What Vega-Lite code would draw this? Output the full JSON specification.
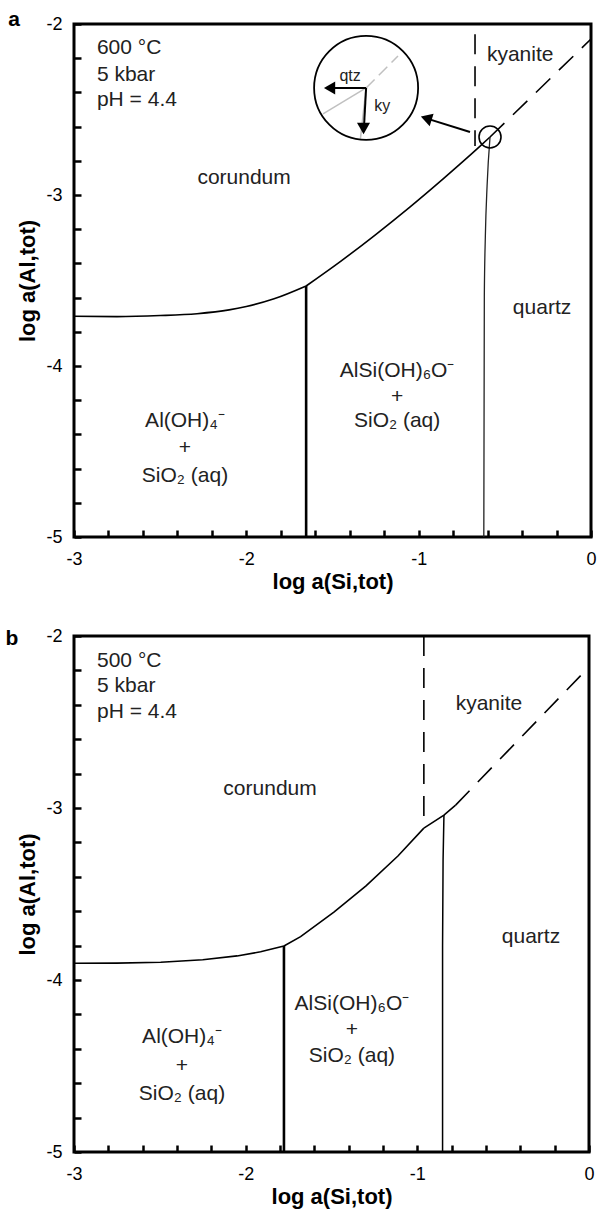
{
  "$schema": "https://vega.github.io/schema/vega-lite/v6.json",
  "background": "white",
  "padding": {"left": 4, "top": 7, "right": 8, "bottom": 5},
  "spacing": 31,
  "config": {
    "view": {"stroke": "black", "strokeWidth": 3},
    "font": "Liberation Sans",
    "axis": {
      "domain": false, "grid": false,
      "tickColor": "black", "tickWidth": 2.5, "tickSize": 7, "offset": -7,
      "labelFont": "Liberation Sans", "labelFontSize": 18, "labelColor": "black",
      "labelFlush": false, "labelOverlap": false,
      "titleFont": "Liberation Sans", "titleFontSize": 22, "titleFontWeight": "bold", "titleColor": "black"
    }
  },
  "datasets": {
    "a_solid": [
      {"seg": "lo", "i": 0, "x": -3, "y": -3.709},
      {"seg": "lo", "i": 1, "x": -2.75, "y": -3.711},
      {"seg": "lo", "i": 2, "x": -2.5, "y": -3.705},
      {"seg": "lo", "i": 3, "x": -2.286, "y": -3.694},
      {"seg": "lo", "i": 4, "x": -2.1, "y": -3.672},
      {"seg": "lo", "i": 5, "x": -2.0, "y": -3.652},
      {"seg": "lo", "i": 6, "x": -1.839, "y": -3.607},
      {"seg": "lo", "i": 7, "x": -1.653, "y": -3.532},
      {"seg": "up", "i": 0, "x": -1.653, "y": -3.532},
      {"seg": "up", "i": 1, "x": -1.453, "y": -3.388},
      {"seg": "up", "i": 2, "x": -1.253, "y": -3.234},
      {"seg": "up", "i": 3, "x": -1.053, "y": -3.072},
      {"seg": "up", "i": 4, "x": -0.853, "y": -2.901},
      {"seg": "up", "i": 5, "x": -0.653, "y": -2.723},
      {"seg": "up", "i": 6, "x": -0.586, "y": -2.661}
    ],
    "a_qz": [
      {"i": 0, "x": -0.586, "y": -2.661},
      {"i": 1, "x": -0.603, "y": -2.947},
      {"i": 2, "x": -0.613, "y": -3.240},
      {"i": 3, "x": -0.619, "y": -3.591},
      {"i": 4, "x": -0.622, "y": -5}
    ],
    "a_thick": [
      {"i": 0, "x": -1.653, "y": -3.532},
      {"i": 1, "x": -1.653, "y": -5}
    ],
    "a_dash": [
      {"seg": "diag", "i": 0, "x": -0.586, "y": -2.661},
      {"seg": "diag", "i": 1, "x": 0, "y": -2.088},
      {"seg": "vert", "i": 0, "x": -0.673, "y": -2.06},
      {"seg": "vert", "i": 1, "x": -0.673, "y": -2.713}
    ],
    "a_gray": [
      {"seg": "g1", "i": 0, "x": -1.555, "y": -2.526},
      {"seg": "g1", "i": 1, "x": -1.305, "y": -2.374},
      {"seg": "g2", "i": 0, "x": -1.305, "y": -2.374},
      {"seg": "g2", "i": 1, "x": -1.338, "y": -2.672}
    ],
    "a_graydash": [
      {"i": 0, "x": -1.305, "y": -2.374},
      {"i": 1, "x": -1.120, "y": -2.187}
    ],
    "a_arrow": [
      {"seg": "qtz", "i": 0, "x": -1.305, "y": -2.374},
      {"seg": "qtz", "i": 1, "x": -1.530, "y": -2.374},
      {"seg": "ky", "i": 0, "x": -1.305, "y": -2.374},
      {"seg": "ky", "i": 1, "x": -1.318, "y": -2.615},
      {"seg": "big", "i": 0, "x": -0.702, "y": -2.632},
      {"seg": "big", "i": 1, "x": -0.965, "y": -2.549}
    ],
    "a_headleft": [{"x": -1.517, "y": -2.374}],
    "a_headdown": [{"x": -1.320, "y": -2.611}],
    "a_headbig": [{"x": -0.956, "y": -2.551}],
    "a_inset": [{"x": -1.305, "y": -2.374}],
    "a_ring": [{"x": -0.586, "y": -2.661}],
    "a_text": [
      {"t": "corundum", "x": -2.013, "y": -2.936},
      {"t": "kyanite", "x": -0.411, "y": -2.216},
      {"t": "quartz", "x": -0.284, "y": -3.696},
      {"t": "AlSi(OH)₆O⁻", "x": -1.125, "y": -4.064},
      {"t": "+", "x": -1.125, "y": -4.216},
      {"t": "SiO₂ (aq)", "x": -1.125, "y": -4.357},
      {"t": "Al(OH)₄⁻", "x": -2.356, "y": -4.357},
      {"t": "+", "x": -2.356, "y": -4.515},
      {"t": "SiO₂ (aq)", "x": -2.356, "y": -4.678}
    ],
    "a_cond": [
      {"t": "600 °C", "x": -2.867, "y": -2.175},
      {"t": "5 kbar", "x": -2.867, "y": -2.333},
      {"t": "pH = 4.4", "x": -2.867, "y": -2.480}
    ],
    "a_small": [
      {"t": "qtz", "x": -1.398, "y": -2.333},
      {"t": "ky", "x": -1.212, "y": -2.509}
    ],
    "a_letter": [{"t": "a", "x": -3.348, "y": -2.012}],
    "b_solid": [
      {"seg": "lo", "i": 0, "x": -3, "y": -3.903},
      {"seg": "lo", "i": 1, "x": -2.75, "y": -3.902},
      {"seg": "lo", "i": 2, "x": -2.495, "y": -3.897},
      {"seg": "lo", "i": 3, "x": -2.25, "y": -3.882},
      {"seg": "lo", "i": 4, "x": -2.05, "y": -3.860},
      {"seg": "lo", "i": 5, "x": -1.913, "y": -3.836},
      {"seg": "lo", "i": 6, "x": -1.777, "y": -3.802},
      {"seg": "up", "i": 0, "x": -1.777, "y": -3.802},
      {"seg": "up", "i": 1, "x": -1.680, "y": -3.748},
      {"seg": "up", "i": 2, "x": -1.486, "y": -3.605},
      {"seg": "up", "i": 3, "x": -1.299, "y": -3.453},
      {"seg": "up", "i": 4, "x": -1.113, "y": -3.279},
      {"seg": "up", "i": 5, "x": -0.962, "y": -3.117},
      {"seg": "ky", "i": 0, "x": -0.962, "y": -3.117},
      {"seg": "ky", "i": 1, "x": -0.845, "y": -3.041},
      {"seg": "ky", "i": 2, "x": -0.777, "y": -2.983}
    ],
    "b_qz": [
      {"i": 0, "x": -0.845, "y": -3.041},
      {"i": 1, "x": -0.850, "y": -3.3},
      {"i": 2, "x": -0.853, "y": -3.8},
      {"i": 3, "x": -0.853, "y": -5}
    ],
    "b_thick": [
      {"i": 0, "x": -1.777, "y": -3.802},
      {"i": 1, "x": -1.777, "y": -5}
    ],
    "b_dash": [
      {"seg": "diag", "i": 0, "x": -0.777, "y": -2.983},
      {"seg": "diag", "i": 1, "x": 0, "y": -2.18},
      {"seg": "vert", "i": 0, "x": -0.962, "y": -2.0},
      {"seg": "vert", "i": 1, "x": -0.962, "y": -3.05}
    ],
    "b_text": [
      {"t": "corundum", "x": -1.858, "y": -2.924},
      {"t": "kyanite", "x": -0.583, "y": -2.430},
      {"t": "quartz", "x": -0.338, "y": -3.785},
      {"t": "AlSi(OH)₆O⁻", "x": -1.381, "y": -4.174},
      {"t": "+", "x": -1.381, "y": -4.326},
      {"t": "SiO₂ (aq)", "x": -1.381, "y": -4.477},
      {"t": "Al(OH)₄⁻", "x": -2.371, "y": -4.366},
      {"t": "+", "x": -2.371, "y": -4.535},
      {"t": "SiO₂ (aq)", "x": -2.371, "y": -4.698}
    ],
    "b_cond": [
      {"t": "500 °C", "x": -2.866, "y": -2.180},
      {"t": "5 kbar", "x": -2.866, "y": -2.326},
      {"t": "pH = 4.4", "x": -2.866, "y": -2.477}
    ],
    "b_letter": [{"t": "b", "x": -3.361, "y": -2.052}]
  },
  "vconcat": [
    {
      "width": 517,
      "height": 513,
      "encoding": {
        "x": {"field": "x", "type": "quantitative", "title": "log a(Si,tot)",
          "scale": {"domain": [-3, 0], "nice": false, "zero": false},
          "axis": {"values": [-3, -2.8, -2.6, -2.4, -2.2, -2, -1.8, -1.6, -1.4, -1.2, -1, -0.8, -0.6, -0.4, -0.2, 0],
            "labelExpr": "abs(datum.value - round(datum.value)) < 0.001 ? '' + round(datum.value) : ''",
            "labelPadding": 13, "titlePadding": 3}},
        "y": {"field": "y", "type": "quantitative", "title": "log a(Al,tot)",
          "scale": {"domain": [-5, -2], "nice": false, "zero": false},
          "axis": {"values": [-5, -4.8, -4.6, -4.4, -4.2, -4, -3.8, -3.6, -3.4, -3.2, -3, -2.8, -2.6, -2.4, -2.2, -2],
            "labelExpr": "abs(datum.value - round(datum.value)) < 0.001 ? '' + round(datum.value) : ''",
            "labelPadding": 12, "titlePadding": 6}}
      },
      "layer": [
        {"data": {"name": "a_solid"}, "mark": {"type": "line", "color": "black", "strokeWidth": 1.6, "interpolate": "monotone"},
          "encoding": {"detail": {"field": "seg"}, "order": {"field": "i"}}},
        {"data": {"name": "a_qz"}, "mark": {"type": "line", "color": "#222", "strokeWidth": 1.3, "interpolate": "monotone"},
          "encoding": {"order": {"field": "i"}}},
        {"data": {"name": "a_thick"}, "mark": {"type": "line", "color": "black", "strokeWidth": 2.6},
          "encoding": {"order": {"field": "i"}}},
        {"data": {"name": "a_dash"}, "mark": {"type": "line", "color": "black", "strokeWidth": 1.6, "strokeDash": [20, 12]},
          "encoding": {"detail": {"field": "seg"}, "order": {"field": "i"}}},
        {"data": {"name": "a_gray"}, "mark": {"type": "line", "color": "#c0c0c0", "strokeWidth": 1.5},
          "encoding": {"detail": {"field": "seg"}, "order": {"field": "i"}}},
        {"data": {"name": "a_graydash"}, "mark": {"type": "line", "color": "#c0c0c0", "strokeWidth": 1.5, "strokeDash": [12, 6]},
          "encoding": {"order": {"field": "i"}}},
        {"data": {"name": "a_arrow"}, "mark": {"type": "line", "color": "black", "strokeWidth": 2},
          "encoding": {"detail": {"field": "seg"}, "order": {"field": "i"}}},
        {"data": {"name": "a_headleft"}, "mark": {"type": "point", "shape": "triangle-left", "size": 170, "filled": true, "color": "black", "opacity": 1}},
        {"data": {"name": "a_headdown"}, "mark": {"type": "point", "shape": "triangle-down", "size": 170, "filled": true, "color": "black", "opacity": 1}},
        {"data": {"name": "a_headbig"}, "mark": {"type": "point", "shape": "triangle-left", "size": 170, "filled": true, "color": "black", "opacity": 1, "angle": 17.4}},
        {"data": {"name": "a_inset"}, "mark": {"type": "point", "shape": "circle", "size": 10816, "filled": false, "color": "black", "strokeWidth": 1.8, "opacity": 1}},
        {"data": {"name": "a_ring"}, "mark": {"type": "point", "shape": "circle", "size": 484, "filled": false, "color": "black", "strokeWidth": 1.6, "opacity": 1}},
        {"data": {"name": "a_text"}, "mark": {"type": "text", "fontSize": 21, "align": "center", "baseline": "alphabetic", "color": "#222"},
          "encoding": {"text": {"field": "t"}}},
        {"data": {"name": "a_cond"}, "mark": {"type": "text", "fontSize": 21, "align": "left", "baseline": "alphabetic", "color": "#222"},
          "encoding": {"text": {"field": "t"}}},
        {"data": {"name": "a_small"}, "mark": {"type": "text", "fontSize": 16, "align": "center", "baseline": "alphabetic", "color": "#222"},
          "encoding": {"text": {"field": "t"}}},
        {"data": {"name": "a_letter"}, "mark": {"type": "text", "fontSize": 21, "fontWeight": "bold", "align": "center", "baseline": "alphabetic", "color": "black"},
          "encoding": {"text": {"field": "t"}}}
      ]
    },
    {
      "width": 515,
      "height": 516,
      "encoding": {
        "x": {"field": "x", "type": "quantitative", "title": "log a(Si,tot)",
          "scale": {"domain": [-3, 0], "nice": false, "zero": false},
          "axis": {"values": [-3, -2.8, -2.6, -2.4, -2.2, -2, -1.8, -1.6, -1.4, -1.2, -1, -0.8, -0.6, -0.4, -0.2, 0],
            "labelExpr": "abs(datum.value - round(datum.value)) < 0.001 ? '' + round(datum.value) : ''",
            "labelPadding": 13, "titlePadding": 3}},
        "y": {"field": "y", "type": "quantitative", "title": "log a(Al,tot)",
          "scale": {"domain": [-5, -2], "nice": false, "zero": false},
          "axis": {"values": [-5, -4.8, -4.6, -4.4, -4.2, -4, -3.8, -3.6, -3.4, -3.2, -3, -2.8, -2.6, -2.4, -2.2, -2],
            "labelExpr": "abs(datum.value - round(datum.value)) < 0.001 ? '' + round(datum.value) : ''",
            "labelPadding": 12, "titlePadding": 6}}
      },
      "layer": [
        {"data": {"name": "b_solid"}, "mark": {"type": "line", "color": "black", "strokeWidth": 1.6},
          "encoding": {"detail": {"field": "seg"}, "order": {"field": "i"}}},
        {"data": {"name": "b_qz"}, "mark": {"type": "line", "color": "black", "strokeWidth": 1.5},
          "encoding": {"order": {"field": "i"}}},
        {"data": {"name": "b_thick"}, "mark": {"type": "line", "color": "black", "strokeWidth": 2.6},
          "encoding": {"order": {"field": "i"}}},
        {"data": {"name": "b_dash"}, "mark": {"type": "line", "color": "black", "strokeWidth": 1.6, "strokeDash": [20, 12]},
          "encoding": {"detail": {"field": "seg"}, "order": {"field": "i"}}},
        {"data": {"name": "b_text"}, "mark": {"type": "text", "fontSize": 21, "align": "center", "baseline": "alphabetic", "color": "#222"},
          "encoding": {"text": {"field": "t"}}},
        {"data": {"name": "b_cond"}, "mark": {"type": "text", "fontSize": 21, "align": "left", "baseline": "alphabetic", "color": "#222"},
          "encoding": {"text": {"field": "t"}}},
        {"data": {"name": "b_letter"}, "mark": {"type": "text", "fontSize": 21, "fontWeight": "bold", "align": "center", "baseline": "alphabetic", "color": "black"},
          "encoding": {"text": {"field": "t"}}}
      ]
    }
  ]
}
